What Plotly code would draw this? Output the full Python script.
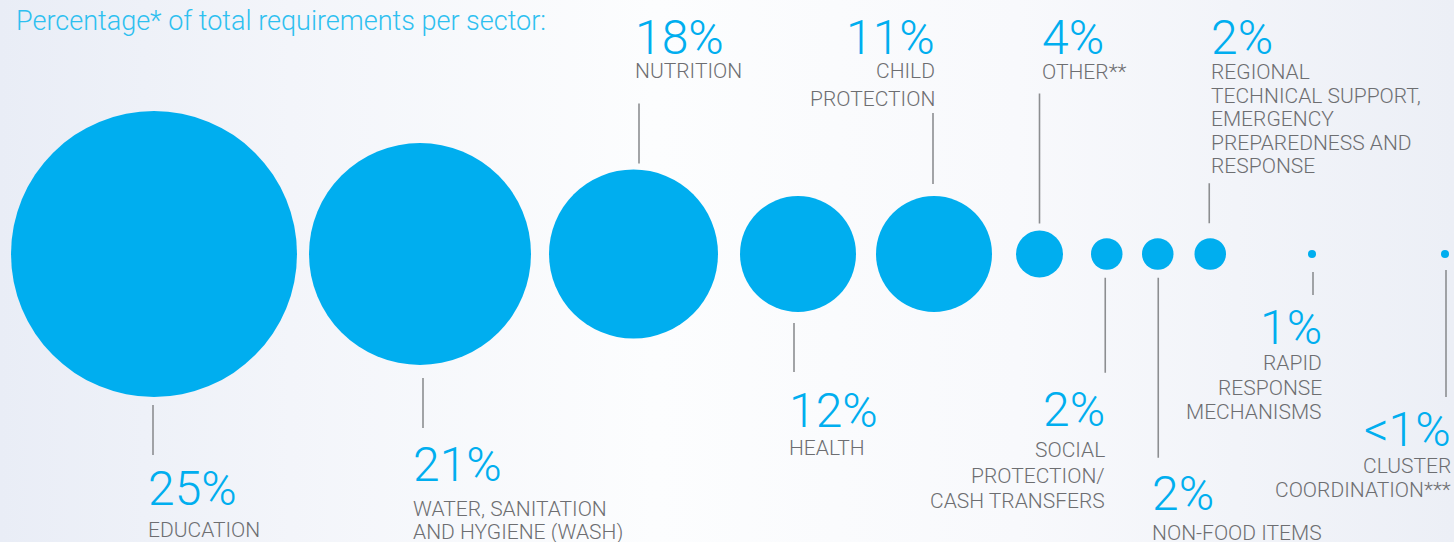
import plotly.graph_objects as go

# ---------------- data ----------------
title_text = "Percentage* of total requirements per sector:"
sectors = [
    ["EDUCATION"],
    ["WATER, SANITATION", "AND HYGIENE (WASH)"],
    ["NUTRITION"],
    ["HEALTH"],
    ["CHILD", "PROTECTION"],
    ["OTHER**"],
    ["SOCIAL", "PROTECTION/", "CASH TRANSFERS"],
    ["NON-FOOD ITEMS"],
    ["REGIONAL", "TECHNICAL SUPPORT,", "EMERGENCY", "PREPAREDNESS AND", "RESPONSE"],
    ["RAPID", "RESPONSE", "MECHANISMS"],
    ["CLUSTER", "COORDINATION***"],
]
share_labels = ["25%", "21%", "18%", "12%", "11%", "4%", "2%", "2%", "2%", "1%", "<1%"]
share_values = [25, 21, 18, 12, 11, 4, 2, 2, 2, 1, 0.5]

# ---------------- style / layout ----------------
W, H = 1454, 542
CY = 254
BLUE = "#00AEEF"
GREY = "#6D6E71"
LINE = "#8C8E91"
FONT = "Roboto"

diam = [286, 222, 169, 116, 116, 47, 31.5, 31.5, 31.5, 8, 8]
gaps = [12, 18, 22, 20, 24, 28, 19.5, 21, 82, 125]
first_left = 11
side = ["below", "below", "above", "below", "above", "above", "below", "below", "above", "below", "below"]
conn_dx = [-1, 3, 5.5, -4, -1, 0, -1.5, 0.5, -1, 1, 1]
conn_gap = [8, 13, 6, 11, 12, 7, 8, 8, 15, 14, 12]
conn_len = [50, 50, 60, 49, 71, 130, 95, 180, 40, 23, 127]
text_align = ["left", "left", "left", "left", "right", "left", "right", "left", "left", "right", "right"]
text_dx = [-6, -11, -5, -6, 3, 1, 1, -7, 1, 10, 6]
pct_pad = [14, 17, 0, 19, 0, 0, 18, 17, 0, 13, 13]
TOP_ROW = 18
label_off = [53, 56, 45, 49, 45, 46, 51, 50, 46, 47, 48]
line_step = [24, 23, 27.5, 24, 27.5, 24, 25.5, 24, 23.5, 24.5, 24]
PCT_SIZE = 48
LAB_SIZE = 21
TITLE_SIZE = 27

ASC = 0.928 - 0.711  # roboto: ascent minus cap height (em)

# centres from diameters and gaps
centers = []
left = first_left
for i, d in enumerate(diam):
    centers.append(left + d / 2)
    if i < len(gaps):
        left = left + d + gaps[i]

fig = go.Figure()

# background gradient
fig.add_trace(go.Scatter(
    x=[0, W, W, 0, 0], y=[0, 0, H, H, 0], mode="lines", fill="toself",
    line=dict(width=0),
    fillgradient=dict(type="horizontal",
                      colorscale=[[0, "#E9EDF6"], [0.2, "#F3F5FA"], [0.45, "#FCFDFE"],
                                  [0.7, "#F8F9FC"], [1, "#ECEFF6"]]),
    hoverinfo="skip", showlegend=False))

# connectors
cx, cy = [], []
conn_ends = []
for i, c in enumerate(centers):
    x = c + conn_dx[i]
    r = diam[i] / 2
    if side[i] == "below":
        y0 = CY + r + conn_gap[i]
        y1 = y0 + conn_len[i]
    else:
        y0 = CY - r - conn_gap[i]
        y1 = y0 - conn_len[i]
    conn_ends.append(y1)
    cx += [x, x, None]
    cy += [y0, y1, None]
fig.add_trace(go.Scatter(x=cx, y=cy, mode="lines", line=dict(color=LINE, width=1.6),
                         hoverinfo="skip", showlegend=False))

# bubbles
fig.add_trace(go.Scatter(
    x=centers, y=[CY] * len(centers), mode="markers",
    marker=dict(size=diam, sizemode="diameter", color=BLUE, line=dict(width=0), opacity=1),
    customdata=share_values,
    text=[" ".join(s) for s in sectors],
    hovertemplate="%{text}: %{customdata}%<extra></extra>",
    showlegend=False))

annotations = []
for i, c in enumerate(centers):
    x = c + conn_dx[i] + text_dx[i]
    if side[i] == "below":
        cap_top = conn_ends[i] + pct_pad[i]
    else:
        cap_top = TOP_ROW
    annotations.append(dict(
        x=x, y=cap_top - ASC * PCT_SIZE, xref="x", yref="y",
        xanchor=text_align[i], yanchor="top", align=text_align[i],
        text=share_labels[i], showarrow=False, borderpad=0,
        font=dict(family=FONT, size=PCT_SIZE, color=BLUE, weight=300)))
    for j, line in enumerate(sectors[i]):
        lt = cap_top + label_off[i] + j * line_step[i]
        annotations.append(dict(
            x=x, y=lt - ASC * LAB_SIZE, xref="x", yref="y",
            xanchor=text_align[i], yanchor="top", align=text_align[i],
            text=line, showarrow=False, borderpad=0,
            font=dict(family=FONT, size=LAB_SIZE, color=GREY, weight=300)))

annotations.append(dict(
    x=15, y=10 - ASC * TITLE_SIZE, xref="x", yref="y", xanchor="left", yanchor="top",
    text=title_text, showarrow=False, borderpad=0,
    font=dict(family=FONT, size=TITLE_SIZE, color="#2EC0F0", weight=300)))

fig.update_layout(
    width=W, height=H, margin=dict(l=0, r=0, t=0, b=0),
    paper_bgcolor="#FFFFFF", plot_bgcolor="rgba(0,0,0,0)",
    xaxis=dict(range=[0, W], visible=False, fixedrange=True),
    yaxis=dict(range=[H, 0], visible=False, fixedrange=True),
    annotations=annotations, showlegend=False)

fig.write_html("out.html")
